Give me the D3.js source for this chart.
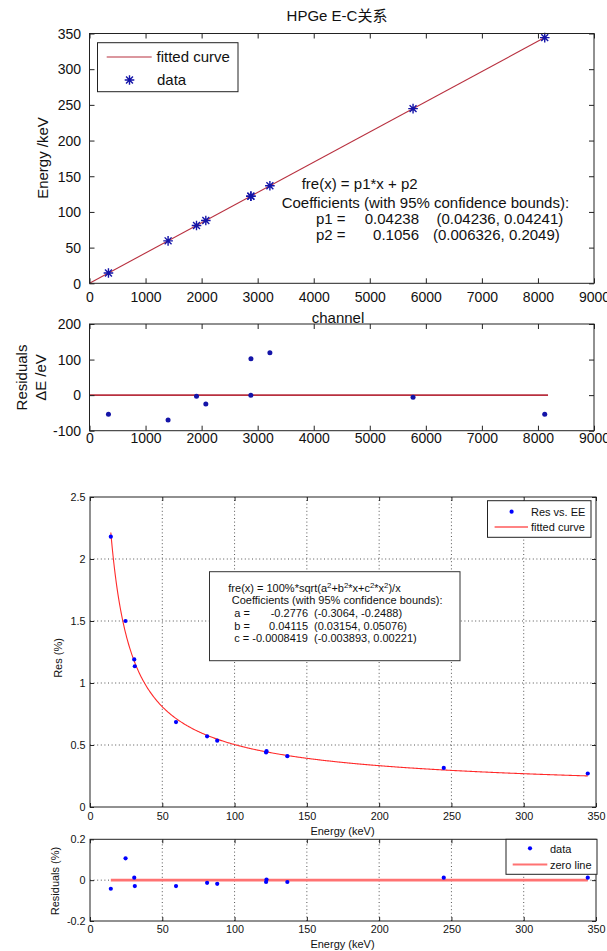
<!DOCTYPE html>
<html>
<head>
<meta charset="utf-8">
<script src="https://cdn.jsdelivr.net/npm/d3@7"></script>
<style>
  body { margin: 0; background: #fff; }
  svg { display: block; }
  text { font-family: "Liberation Sans", Arial, "Noto Sans CJK SC", sans-serif; fill: #111; white-space: pre; }
</style>
</head>
<body>
<svg id="chart" width="607" height="951"></svg>
<script>
// ---------- Energy calibration (channel -> energy) ----------
const calChannel   = [338, 1402, 1909, 2075, 2878, 2880, 3218, 5772, 8121];
const calEnergy    = [14.4, 59.5, 81.0, 88.0, 122.0, 122.1, 136.6, 244.7, 344.2];
const calResidual  = [-54, -70, -3, -25, 0, 102, 119, -6, -54];   // eV
const linCoef      = [0.04238, 0.1056];                            // p1, p2
const linRange     = [0, 8121];                                    // channel span of fitted line
const resZeroRange = [0, 8180];
const calXTicks    = [0, 1000, 2000, 3000, 4000, 5000, 6000, 7000, 8000, 9000];
const calYTicks    = [0, 50, 100, 150, 200, 250, 300, 350];
const calResTicks  = [-100, 0, 100, 200];

// ---------- Energy resolution vs energy ----------
const resEnergy    = [14.4, 24.6, 30.6, 31.0, 59.5, 81.0, 88.0, 121.8, 122.1, 136.5, 244.7, 344.3];
const resPercent   = [2.18, 1.50, 1.19, 1.135, 0.685, 0.57, 0.535, 0.44, 0.45, 0.41, 0.315, 0.27];
const resResidual  = [-0.042, 0.107, 0.012, -0.029, -0.029, -0.013, -0.018, -0.009, 0.003, -0.009, 0.012, 0.012];
const resCoef      = [-0.2776, 0.04115, -0.0008419];               // a, b, c
const resCoefNames = ["a", "b", "c"];
const resCoefText  = ["-0.2776", "0.04115", "-0.0008419"];
const resCoefCI    = ["(-0.3064, -0.2488)", "(0.03154, 0.05076)", "(-0.003893, 0.00221)"];
const resXTicks    = [0, 50, 100, 150, 200, 250, 300, 350];
const resYTicks    = [0, 0.5, 1, 1.5, 2, 2.5];
const resResTicks  = [-0.2, 0, 0.2];

const svg = d3.select("#chart");

// Box with inward ticks on all four sides, labels on left/bottom
function frame(g, x, y, o) {
  const [xl, xr] = x.range(), [yb, yt] = y.range();
  const fmtX = o.fmtX || (d => d), fmtY = o.fmtY || (d => d);
  if (o.grid) {
    g.append("g").selectAll("line").data(o.xTicks.filter(d => d > x.domain()[0] && d < x.domain()[1]))
      .join("line").attr("x1", d => x(d)).attr("x2", d => x(d)).attr("y1", yb).attr("y2", yt)
      .attr("stroke", "#555").attr("stroke-width", 1).attr("stroke-dasharray", "1,2.6");
    g.append("g").selectAll("line").data(o.yTicks.filter(d => d > y.domain()[0] && d < y.domain()[1]))
      .join("line").attr("y1", d => y(d)).attr("y2", d => y(d)).attr("x1", xl).attr("x2", xr)
      .attr("stroke", "#555").attr("stroke-width", 1).attr("stroke-dasharray", "1,2.6");
  }
  const t = o.tick;
  const ax = [
    g.append("g").attr("transform", `translate(0,${yb})`)
      .call(d3.axisBottom(x).tickValues(o.xTicks).tickSizeInner(-t).tickSizeOuter(0).tickFormat(fmtX)),
    g.append("g").attr("transform", `translate(0,${yt})`)
      .call(d3.axisTop(x).tickValues(o.xTicks).tickSizeInner(-t).tickSizeOuter(0).tickFormat("")),
    g.append("g").attr("transform", `translate(${xl},0)`)
      .call(d3.axisLeft(y).tickValues(o.yTicks).tickSizeInner(-t).tickSizeOuter(0).tickFormat(fmtY)),
    g.append("g").attr("transform", `translate(${xr},0)`)
      .call(d3.axisRight(y).tickValues(o.yTicks).tickSizeInner(-t).tickSizeOuter(0).tickFormat(""))
  ];
  ax.forEach(a => {
    a.select(".domain").remove();
    a.selectAll(".tick line").attr("stroke", o.color);
    a.selectAll("text").attr("font-family", null).style("font-size", o.font + "px").attr("fill", "#111");
  });
  ax[0].selectAll("text").attr("y", o.xLabelBase).attr("dy", null);
  ax[2].selectAll("text").attr("x", -o.yLabelGap).attr("dy", "0.34em");
  g.append("rect").attr("x", xl).attr("y", yt).attr("width", xr - xl).attr("height", yb - yt)
    .attr("fill", "none").attr("stroke", o.color).attr("stroke-width", 1);
}

function asterisk(r) {
  const a = r * 0.72;
  return `M${-r},0L${r},0M0,${-r}L0,${r}M${-a},${-a}L${a},${a}M${-a},${a}L${a},${-a}`;
}

function label(x, y, str, size, anchor, rot) {
  const t = svg.append("text").attr("transform", `translate(${x},${y})` + (rot ? ` rotate(${rot})` : ""))
    .style("font-size", size + "px").attr("text-anchor", anchor || "start").text(str);
  return t;
}

// ================= Calibration plot =================
const fitRed = "#b8303f", starBlue = "#1414a8";
const cx = d3.scaleLinear().domain([0, 9000]).range([89.5, 594]);
const cy = d3.scaleLinear().domain([0, 350]).range([283.3, 33.5]);
const gCal = svg.append("g");

gCal.append("path")
  .attr("d", d3.line().x(d => cx(d)).y(d => cy(linCoef[0] * d + linCoef[1]))(linRange))
  .attr("fill", "none").attr("stroke", fitRed).attr("stroke-width", 1.1);

gCal.append("g").selectAll("path").data(calChannel).join("path")
  .attr("transform", (d, i) => `translate(${cx(d)},${cy(calEnergy[i])})`)
  .attr("d", asterisk(4.8)).attr("stroke", starBlue).attr("stroke-width", 1.4).attr("fill", "none");

frame(gCal, cx, cy, { xTicks: calXTicks, yTicks: calYTicks, tick: 5, font: 14, color: "#222",
  xLabelBase: 18.5, yLabelGap: 8.5 });

label(337, 20.5, "HPGe E-C关系", 15, "middle");
label(47.5, 158, "Energy /keV", 15, "middle", -90);
label(338, 322.5, "channel", 15, "middle");

// legend
const lgC = gCal.append("g");
lgC.append("rect").attr("x", 97.5).attr("y", 42.7).attr("width", 140.5).attr("height", 49)
  .attr("fill", "#fff").attr("stroke", "#222").attr("stroke-width", 1);
lgC.append("line").attr("x1", 106.7).attr("x2", 151.7).attr("y1", 57).attr("y2", 57)
  .attr("stroke", fitRed).attr("stroke-width", 1.1);
lgC.append("path").attr("transform", "translate(129.5,80)").attr("d", asterisk(4.8))
  .attr("stroke", starBlue).attr("stroke-width", 1.4);
label(156.5, 62, "fitted curve", 15);
label(157, 85, "data", 15);

// fit annotation
label(301.7, 188.5, "fre(x) = p1*x + p2", 15);
label(281.7, 208, "Coefficients (with 95% confidence bounds):", 15);
label(316, 224, "p1 =", 15); label(419, 224, "0.04238", 15, "end"); label(436.5, 224, "(0.04236, 0.04241)", 15);
label(316, 240, "p2 =", 15); label(419, 240, "0.1056", 15, "end");  label(433, 240, "(0.006326, 0.2049)", 15);

// ---------- calibration residuals ----------
const ry = d3.scaleLinear().domain([-100, 200]).range([430.7, 324]);
const gCalRes = svg.append("g");
gCalRes.append("line").attr("x1", cx(resZeroRange[0])).attr("x2", cx(resZeroRange[1]))
  .attr("y1", ry(0)).attr("y2", ry(0)).attr("stroke", fitRed).attr("stroke-width", 1.8);
gCalRes.append("g").selectAll("circle").data(calChannel).join("circle")
  .attr("cx", d => cx(d)).attr("cy", (d, i) => ry(calResidual[i])).attr("r", 2.5).attr("fill", starBlue);
frame(gCalRes, cx, ry, { xTicks: calXTicks, yTicks: calResTicks, tick: 5, font: 14, color: "#222",
  xLabelBase: 12.3, yLabelGap: 8.5 });
label(27, 377.5, "Residuals", 15, "middle", -90);
label(45.5, 377.5, "ΔE /eV", 15, "middle", -90);

// ================= Resolution plot =================
const curveRed = "#ff2a2a", dotBlue = "#0000ff";
const ex = d3.scaleLinear().domain([0, 350]).range([90, 596]);
const ey = d3.scaleLinear().domain([0, 2.5]).range([807, 497]);
const gRes = svg.append("g");

frame(gRes, ex, ey, { xTicks: resXTicks, yTicks: resYTicks, tick: 4, font: 10.8, color: "#222",
  xLabelBase: 13, yLabelGap: 4.5, grid: true });

const [ca, cb, cc] = resCoef;
const resModel = e => 100 * Math.sqrt(ca * ca + cb * cb * e + cc * cc * e * e) / e;
const eLo = d3.min(resEnergy), eHi = d3.max(resEnergy);
const curveX = d3.range(eLo, eHi, 0.5).concat([eHi]);
gRes.append("path")
  .attr("d", d3.line().x(d => ex(d)).y(d => ey(resModel(d)))(curveX))
  .attr("fill", "none").attr("stroke", curveRed).attr("stroke-width", 1.1);
gRes.append("g").selectAll("circle").data(resEnergy).join("circle")
  .attr("cx", d => ex(d)).attr("cy", (d, i) => ey(resPercent[i])).attr("r", 2.1).attr("fill", dotBlue);

label(342.5, 834.5, "Energy (keV)", 11, "middle");
label(62, 658, "Res (%)", 11, "middle", -90);

// legend
const lgR = gRes.append("g");
lgR.append("rect").attr("x", 487.5).attr("y", 500.7).attr("width", 103.5).attr("height", 36.6)
  .attr("fill", "#fff").attr("stroke", "#222").attr("stroke-width", 1);
lgR.append("circle").attr("cx", 511.6).attr("cy", 511.7).attr("r", 2.1).attr("fill", dotBlue);
lgR.append("line").attr("x1", 494.6).attr("x2", 528).attr("y1", 527).attr("y2", 527)
  .attr("stroke", "#ff5a5a").attr("stroke-width", 1.3);
label(531, 515.5, "Res vs. EE", 11);
label(531, 531, "fitted curve", 11);

// fit annotation box
const ann = gRes.append("g");
ann.append("rect").attr("x", 209.5).attr("y", 571.7).attr("width", 250.5).attr("height", 89)
  .attr("fill", "#fff").attr("stroke", "#333").attr("stroke-width", 1);
const l1 = label(228.3, 592, "", 11);
[["fre(x) = 100%*sqrt(a", 0], ["2", 1], ["+b", 0], ["2", 1], ["*x+c", 0], ["2", 1], ["*x", 0], ["2", 1], [")/x", 0]]
  .forEach(([s, sup], i, arr) => {
    const prevSup = i > 0 && arr[i - 1][1];
    l1.append("tspan").text(s).style("font-size", sup ? "7.8px" : "11px")
      .attr("dy", sup ? -4 : (prevSup ? 4 : 0));
  });
label(231.7, 604, "Coefficients (with 95% confidence bounds):", 11);
resCoefNames.forEach((n, i) => {
  const yb = 617 + i * 12.5;
  label(234.3, yb, n + " =", 11);
  label(308, yb, resCoefText[i], 11, "end");
  label(314, yb, resCoefCI[i], 11);
});

// ---------- resolution residuals ----------
const qy = d3.scaleLinear().domain([-0.2, 0.2]).range([921, 839.3]);
const gResRes = svg.append("g");
frame(gResRes, ex, qy, { xTicks: resXTicks, yTicks: resResTicks, tick: 4, font: 10.8, color: "#222",
  xLabelBase: 12, yLabelGap: 4.5, grid: true });
gResRes.append("line").attr("x1", ex(eLo)).attr("x2", ex(eHi)).attr("y1", qy(0)).attr("y2", qy(0))
  .attr("stroke", "#ff7272").attr("stroke-width", 2.6);
gResRes.append("g").selectAll("circle").data(resEnergy).join("circle")
  .attr("cx", d => ex(d)).attr("cy", (d, i) => qy(resResidual[i])).attr("r", 2.1).attr("fill", dotBlue);

label(342.5, 948, "Energy (keV)", 11, "middle");
label(58.5, 881, "Residuals (%)", 11, "middle", -90);

const lgQ = gResRes.append("g");
lgQ.append("rect").attr("x", 506).attr("y", 839.3).attr("width", 91).attr("height", 35)
  .attr("fill", "#fff").attr("stroke", "#222").attr("stroke-width", 1);
lgQ.append("circle").attr("cx", 530).attr("cy", 848.3).attr("r", 2.1).attr("fill", dotBlue);
lgQ.append("line").attr("x1", 512.7).attr("x2", 547.3).attr("y1", 864.5).attr("y2", 864.5)
  .attr("stroke", "#ff7272").attr("stroke-width", 2.2);
label(550, 852.5, "data", 11);
label(550, 868.5, "zero line", 11);
</script>
</body>
</html>
